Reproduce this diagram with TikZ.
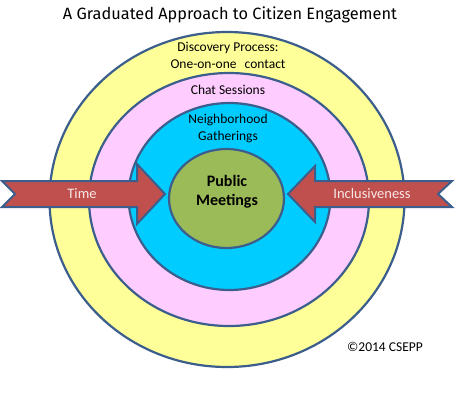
\documentclass[tikz,border=0pt]{standalone}
\usepackage{fontspec}
\setmainfont{Carlito}
\newfontfamily\titlefont{Fira Sans}
\usetikzlibrary{shapes.geometric}
\definecolor{edgeblue}{HTML}{3B5E8C}
\definecolor{ringyellow}{HTML}{FFFF99}
\definecolor{ringpink}{HTML}{FFCCFF}
\definecolor{ringblue}{HTML}{00CCFF}
\definecolor{coregreen}{HTML}{9BBB59}
\definecolor{arrowred}{HTML}{C0504D}
\definecolor{arrowtext}{HTML}{F7E8E8}
\tikzset{
  ring/.style={ellipse, draw=edgeblue, line width=2.2pt, inner sep=0pt},
  lbl/.style={font=\fontsize{13.5}{16}\selectfont, align=center, text=black, inner sep=0pt},
  bigarrow/.style={fill=arrowred, draw=edgeblue, line width=2pt, line join=miter},
  arrowlbl/.style={font=\fontsize{14.5}{17}\selectfont, text=arrowtext, inner sep=0pt}
}
\begin{document}
\begin{tikzpicture}[x=1pt,y=-1pt]
\useasboundingbox (0,0) rectangle (460,408);
\fill[white] (0,0) rectangle (460,408);
\node[inner sep=0pt] (title) at (230,14.5) {\resizebox{334pt}{!}{\titlefont A Graduated  Approach to Citizen Engagement}};
\node[ring, fill=ringyellow, minimum width=355pt, minimum height=335pt] (outer) at (227,199.5) {};
\node[ring, fill=ringpink, minimum width=280pt, minimum height=253pt] (middle) at (229,199.5) {};
\node[ring, fill=ringblue, minimum width=202pt, minimum height=187pt] (inner) at (229.5,196.5) {};
\node[ring, fill=coregreen, minimum width=115pt, minimum height=99pt] (core) at (226.5,198.5) {};
% arrows
\coordinate (ltip) at (165,194);
\coordinate (rtip) at (288,194);
\draw[bigarrow] (2,181) -- (137,181) -- (137,164) -- (ltip) -- (137,224) -- (137,207) -- (2,207) -- (15,194) -- cycle;
\draw[bigarrow] (452,181) -- (315,181) -- (315,166) -- (rtip) -- (315,222) -- (315,207) -- (452,207) -- (438,194) -- cycle;
% labels
\node[lbl] (disc) at (228,55) {Discovery Process:\\[1pt]One-on-one\hspace{0.6em}contact};
\node[lbl] (chat) at (228,90) {Chat Sessions};
\node[lbl] (neigh) at (228,128.5) {Neighborhood\\[1pt]Gatherings};
\node[lbl, font=\fontsize{16}{19}\selectfont\bfseries] (pub) at (227,191.5) {Public\\Meetings};
\node[arrowlbl] (time) at (82,194) {Time};
\node[arrowlbl] (incl) at (372,194) {Inclusiveness};
\node[lbl] (copy) at (385,347) {\textcopyright2014 CSEPP};
\end{tikzpicture}
\end{document}
